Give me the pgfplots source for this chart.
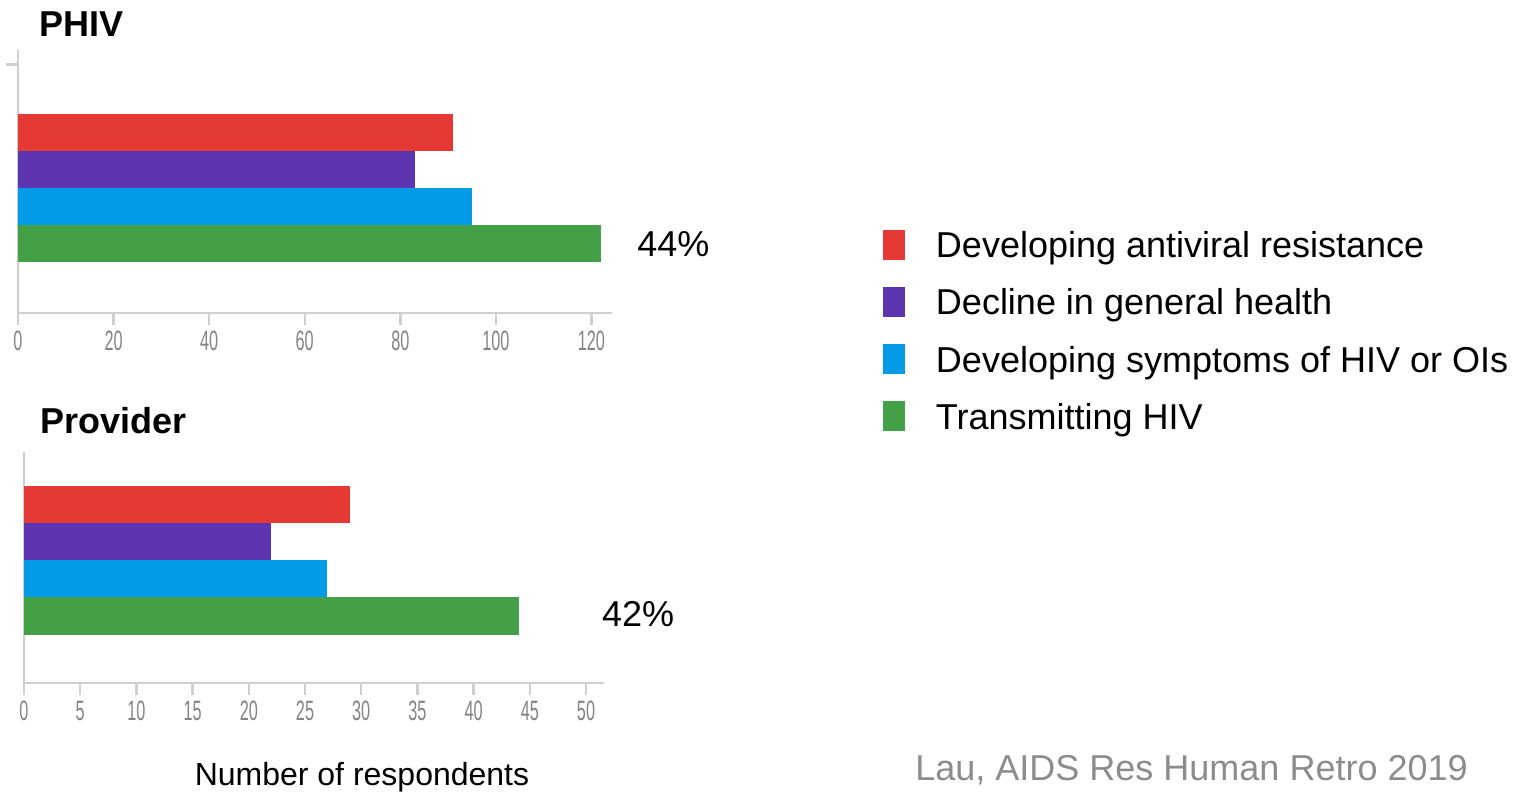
\documentclass[border=0pt]{standalone}
\usepackage{fontspec}
\setmainfont{Liberation Sans}
\newfontfamily\tickfont[FakeStretch=0.58]{Liberation Sans}
\usepackage{pgfplots}
\pgfplotsset{compat=1.18}
\definecolor{cRed}{HTML}{E53935}
\definecolor{cPurple}{HTML}{5E35B1}
\definecolor{cBlue}{HTML}{039BE5}
\definecolor{cGreen}{HTML}{43A047}
\definecolor{axgray}{HTML}{CFCFCF}
\definecolor{tickgray}{HTML}{85837F}
\definecolor{citegray}{HTML}{8C8C8C}
\pgfplotsset{
  mychart/.style={
    scale only axis,
    axis lines=left,
    axis line style={-, draw=axgray, line width=1.2bp},
    every tick/.style={draw=axgray, line width=1.2bp},
    tick align=outside,
    major tick length=6bp,
    /pgf/number format/assume math mode=true,
    xticklabel style={font=\tickfont\fontsize{14bp}{16bp}\selectfont, text=tickgray, inner sep=1bp, yshift=-2bp},
    clip=false,
  },
}
\begin{document}
\begin{tikzpicture}
\useasboundingbox (0,0) rectangle (762.5bp,396.5bp);
% ---------------- PHIV ----------------
\begin{axis}[mychart,
  at={(9bp,240bp)}, anchor=south west,
  width=297bp, height=131.5bp,
  xmin=0, xmax=124.3, ymin=-0.865, ymax=6.24,
  xtick={0,20,...,120},
  ytick={5.85}, yticklabels={},
  legend style={at={(1.4562,0.316)}, anchor=north west, draw=none, fill=none,
    inner sep=0pt, outer sep=0pt, row sep=10.55bp, column sep=15.5bp,
    font=\fontsize{18bp}{20bp}\selectfont,
    nodes={inner sep=0pt, text height=13bp, text depth=4bp}},
  legend cell align=left,
]
\addplot[xbar, fill=cRed, draw=none, bar width=1,
  legend image code/.code={\fill[cRed] (0bp,-5.5bp) rectangle (11bp,9.5bp);}]
  coordinates {(91,4)};
\addlegendentry{Developing antiviral resistance}
\addplot[xbar, fill=cPurple, draw=none, bar width=1,
  legend image code/.code={\fill[cPurple] (0bp,-5.5bp) rectangle (11bp,9.5bp);}]
  coordinates {(83,3)};
\addlegendentry{Decline in general health}
\addplot[xbar, fill=cBlue, draw=none, bar width=1,
  legend image code/.code={\fill[cBlue] (0bp,-5.5bp) rectangle (11bp,9.5bp);}]
  coordinates {(95,2)};
\addlegendentry{Developing symptoms of HIV or OIs}
\addplot[xbar, fill=cGreen, draw=none, bar width=1,
  legend image code/.code={\fill[cGreen] (0bp,-5.5bp) rectangle (11bp,9.5bp);}]
  coordinates {(122,1)};
\addlegendentry{Transmitting HIV}
\node[anchor=west, inner sep=0pt, font=\fontsize{18bp}{20bp}\selectfont] at (axis cs:129.5,1) {44\%};
\end{axis}
% ---------------- Provider ----------------
\begin{axis}[mychart,
  at={(12bp,55bp)}, anchor=south west,
  width=290bp, height=115.5bp,
  xmin=0, xmax=51.6, ymin=-0.81, ymax=5.43,
  xtick={0,5,...,50},
  ytick=\empty,
]
\addplot[xbar, fill=cRed, draw=none, bar width=1] coordinates {(29,4)};
\addplot[xbar, fill=cPurple, draw=none, bar width=1] coordinates {(22,3)};
\addplot[xbar, fill=cBlue, draw=none, bar width=1] coordinates {(27,2)};
\addplot[xbar, fill=cGreen, draw=none, bar width=1] coordinates {(44,1)};
\node[anchor=west, inner sep=0pt, font=\fontsize{18bp}{20bp}\selectfont] at (axis cs:51.4,1.05) {42\%};
\end{axis}
% ---------------- Texts ----------------
\node[anchor=base west, inner sep=0pt, font=\fontsize{18bp}{20bp}\selectfont\bfseries] at (19.5bp,378bp) {PHIV};
\node[anchor=base west, inner sep=0pt, font=\fontsize{18bp}{20bp}\selectfont\bfseries] at (20bp,179.5bp) {Provider};
\node[anchor=base, inner sep=0pt, font=\fontsize{16bp}{18bp}\selectfont] at (181bp,4bp) {Number of respondents};
\node[anchor=base west, inner sep=0pt, text=citegray, font=\fontsize{18bp}{20bp}\selectfont] at (457.5bp,6.5bp) {Lau, AIDS Res Human Retro 2019};
\end{tikzpicture}
\end{document}
